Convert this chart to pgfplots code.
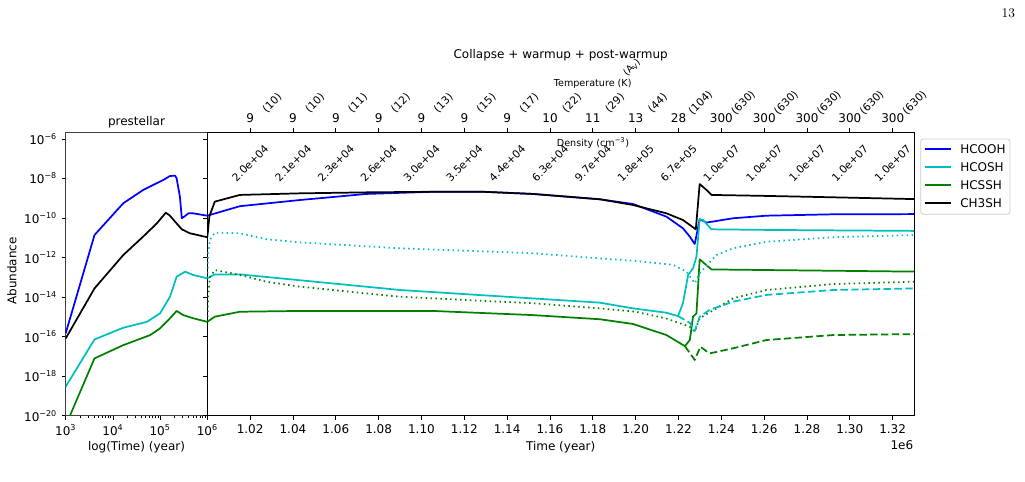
\documentclass[border=0pt]{standalone}
\usepackage{fontspec}
\setsansfont{DejaVu Sans}
\usepackage{pgfplots}
\pgfplotsset{compat=1.18}
\definecolor{colcyan}{rgb}{0,0.75,0.75}
\definecolor{mplg}{rgb}{0,0.5,0}
\definecolor{mplb}{rgb}{0,0,1}
\pgfplotsset{
  myax/.style={
    scale only axis, anchor=south west,
    height=212.55pt, ymin=-20, ymax=-5.661,
    ytick={-20,-18,-16,-14,-12,-10,-8,-6},
    tick align=outside, major tick length=3pt, minor tick length=1.8pt,
    tick style={black, line width=0.6pt},
    axis line style={line width=0.7pt},
    tick label style={font=\fontsize{9}{10}\selectfont},
    /pgf/number format/assume math mode=true,
  },
  pl/.style={line width=1.3pt, line join=round},
  dotst/.style={dash pattern=on 1.1pt off 2.6pt},
  dashst/.style={dash pattern=on 5.5pt off 2.6pt},
}
\begin{document}
\sffamily
\begin{tikzpicture}
\useasboundingbox (0,0) rectangle (768.75pt,361.5pt);
% ---------------- left panel: prestellar ----------------
\begin{axis}[myax,
  at={(49.275pt,49.725pt)}, width=106.2pt,
  xmin=3, xmax=6,
  xtick={3,4,5,6},
  xticklabels={10\textsuperscript{3},10\textsuperscript{4},10\textsuperscript{5},10\textsuperscript{6}},
  minor xtick={3.30103,3.47712,3.60206,3.69897,3.77815,3.84510,3.90309,3.95424,
               4.30103,4.47712,4.60206,4.69897,4.77815,4.84510,4.90309,4.95424,
               5.30103,5.47712,5.60206,5.69897,5.77815,5.84510,5.90309,5.95424},
  yticklabels={10\textsuperscript{−20},10\textsuperscript{−18},10\textsuperscript{−16},10\textsuperscript{−14},10\textsuperscript{−12},10\textsuperscript{−10},10\textsuperscript{−8},10\textsuperscript{−6}},
  xtick pos=bottom, ytick pos=left,
  axis line style={black!75, line width=0.7pt},
]
\addplot[pl, mplb] coordinates {(3,-15.83) (3.61,-10.86) (4.22,-9.25) (4.64,-8.58) (5.07,-8.07) (5.21,-7.87) (5.32,-7.86) (5.35,-7.99) (5.42,-8.92) (5.46,-10.01) (5.51,-9.93) (5.6,-9.76) (5.70,-9.76) (6,-9.88)};
\addplot[pl, colcyan] coordinates {(3,-18.53) (3.61,-16.14) (4.22,-15.55) (4.72,-15.25) (5.0,-14.82) (5.21,-13.98) (5.35,-12.97) (5.53,-12.71) (5.70,-12.88) (6,-13.05)};
\addplot[pl, mplg] coordinates {(3,-20.5) (3.61,-17.10) (4.22,-16.43) (4.79,-15.92) (5.0,-15.58) (5.21,-15.07) (5.35,-14.70) (5.49,-14.91) (5.70,-15.07) (6,-15.25)};
\addplot[pl, black] coordinates {(3,-16.09) (3.61,-13.56) (4.22,-11.87) (4.64,-10.94) (4.93,-10.27) (5.12,-9.73) (5.2,-9.86) (5.35,-10.27) (5.46,-10.57) (5.63,-10.77) (6,-10.97)};
\end{axis}
% ---------------- right panel ----------------
\begin{axis}[myax,
  at={(155.475pt,49.725pt)}, width=530.07pt,
  xmin=1, xmax=1.33,
  xtick={1.02,1.04,1.06,1.08,1.10,1.12,1.14,1.16,1.18,1.20,1.22,1.24,1.26,1.28,1.30,1.32},
  xticklabels={1.02,1.04,1.06,1.08,1.10,1.12,1.14,1.16,1.18,1.20,1.22,1.24,1.26,1.28,1.30,1.32},
  xtick pos=both, ytick pos=left, yticklabels={},
]
\addplot[pl, mplb] coordinates {(1.0,-9.88) (1.0152,-9.4) (1.043,-9.09) (1.0743,-8.78) (1.1054,-8.67) (1.1288,-8.67) (1.152,-8.78) (1.1833,-9.05) (1.1988,-9.29) (1.2144,-9.93) (1.2221,-10.52) (1.2253,-10.94) (1.2276,-11.31) (1.2299,-10.06) (1.2331,-10.23) (1.2455,-10.01) (1.2611,-9.88) (1.2922,-9.81) (1.33,-9.80)};
\addplot[pl, colcyan] coordinates {(1.0,-13.05) (1.0035,-12.85) (1.0152,-12.85) (1.0899,-13.64) (1.1832,-14.28) (1.1988,-14.57) (1.2144,-14.79) (1.2198,-14.96) (1.2221,-14.31) (1.2245,-12.88) (1.2268,-12.54) (1.2284,-11.95) (1.2299,-10.06) (1.2315,-10.1) (1.2354,-10.57) (1.2611,-10.6) (1.33,-10.65)};
\addplot[pl, mplg] coordinates {(1.0,-15.25) (1.0035,-14.99) (1.0152,-14.74) (1.043,-14.70) (1.1054,-14.70) (1.152,-14.91) (1.1833,-15.12) (1.1988,-15.36) (1.2144,-15.92) (1.2230,-16.48) (1.2253,-16.17) (1.2268,-14.99) (1.2284,-14.82) (1.2299,-12.09) (1.2354,-12.6) (1.2611,-12.63) (1.33,-12.71)};
\addplot[pl, black] coordinates {(1.0,-10.97) (1.001,-9.9) (1.0035,-9.17) (1.0152,-8.83) (1.043,-8.75) (1.0743,-8.70) (1.1054,-8.67) (1.1288,-8.67) (1.152,-8.78) (1.1833,-9.05) (1.1988,-9.34) (1.2144,-9.76) (1.2221,-10.1) (1.2281,-10.57) (1.2299,-8.28) (1.2331,-8.58) (1.2354,-8.83) (1.2611,-8.88) (1.2922,-8.95) (1.33,-9.04)};
% dotted and dashed variants
\addplot[pl, colcyan, dotst] coordinates {(1.0,-13.05) (1.0004,-11.8) (1.0012,-11.1) (1.0035,-10.74) (1.0152,-10.77) (1.0276,-11.07) (1.043,-11.23) (1.0899,-11.53) (1.152,-11.78) (1.1833,-12.04) (1.2,-12.17) (1.2175,-12.37) (1.2237,-12.71) (1.2276,-13.30) (1.2299,-12.79) (1.2377,-11.87) (1.2455,-11.53) (1.2611,-11.2) (1.2922,-10.97) (1.33,-10.86)};
\addplot[pl, mplg, dotst] coordinates {(1.0,-15.25) (1.0004,-14.0) (1.0012,-13.0) (1.0035,-12.63) (1.0152,-12.88) (1.0276,-13.22) (1.043,-13.47) (1.0899,-13.98) (1.152,-14.31) (1.1833,-14.57) (1.2,-14.74) (1.214,-15.07) (1.2253,-15.5) (1.2276,-15.75) (1.2299,-15.07) (1.2377,-14.57) (1.2455,-14.06) (1.2611,-13.64) (1.2922,-13.34) (1.33,-13.22)};
\addplot[pl, colcyan, dashst] coordinates {(1.2198,-14.96) (1.2253,-15.3) (1.2276,-15.72) (1.2299,-14.99) (1.2345,-14.65) (1.2455,-14.23) (1.2611,-13.89) (1.2922,-13.64) (1.33,-13.56)};
\addplot[pl, mplg, dashst] coordinates {(1.2230,-16.48) (1.2276,-17.18) (1.2302,-16.51) (1.2345,-16.85) (1.2455,-16.59) (1.2611,-16.17) (1.2922,-15.92) (1.33,-15.87)};
\end{axis}
% ---------------- texts and legend (pixel coordinates) ----------------
\begin{scope}[x=0.75pt,y=-0.75pt,yshift=361.5pt]
\draw[black!20, line width=0.6pt, rounded corners=2pt] (920.7,139) rectangle (1010,214.3);
\draw[mplb, line width=1.3pt] (924.7,149) -- (950.7,149);
\draw[colcyan, line width=1.3pt] (924.7,167) -- (950.7,167);
\draw[mplg, line width=1.3pt] (924.7,184.7) -- (950.7,184.7);
\draw[black, line width=1.3pt] (924.7,203) -- (950.7,203);
\node[font=\fontsize{9}{10}\selectfont, anchor=west, inner sep=0pt] at (960,149) {HCOOH};
\node[font=\fontsize{9}{10}\selectfont, anchor=west, inner sep=0pt] at (960,167) {HCOSH};
\node[font=\fontsize{9}{10}\selectfont, anchor=west, inner sep=0pt] at (960,184.7) {HCSSH};
\node[font=\fontsize{9}{10}\selectfont, anchor=west, inner sep=0pt] at (960,203) {CH3SH};
\node[font=\rmfamily\fontsize{10}{12}\selectfont] at (1008.3,13.3) {13};
\node[font=\fontsize{9}{10}\selectfont] at (560.7,55) {Collapse + warmup + post-warmup};
\node[font=\fontsize{9}{10}\selectfont] at (136.5,122) {prestellar};
\node[font=\fontsize{9}{10}\selectfont, rotate=90] at (12,271) {Abundance};
\node[font=\fontsize{9}{10}\selectfont] at (136.5,447) {log(Time) (year)};
\node[font=\fontsize{9}{10}\selectfont] at (560.7,447) {Time (year)};
\node[font=\fontsize{9}{10}\selectfont, anchor=east, inner sep=0pt] at (913.5,445) {1e6};
\node[font=\fontsize{7.2}{8}\selectfont] at (592.7,84) {Temperature (K)};
\node[font=\fontsize{7.2}{8}\selectfont, rotate=45] at (632,67.5) {(A\textsubscript{V})};
\node[font=\fontsize{7.2}{8}\selectfont] at (593,143) {Density (cm\textsuperscript{−3})};
\foreach \i/\T/\A/\D in {0/9/10/2.0e+04, 1/9/10/2.1e+04, 2/9/11/2.3e+04, 3/9/12/2.6e+04,
  4/9/13/3.0e+04, 5/9/15/3.5e+04, 6/9/17/4.4e+04, 7/10/22/6.3e+04, 8/11/29/9.7e+04,
  9/13/44/1.8e+05, 10/28/104/6.7e+05, 11/300/630/1.0e+07, 12/300/630/1.0e+07,
  13/300/630/1.0e+07, 14/300/630/1.0e+07, 15/300/630/1.0e+07}{
  \pgfmathsetmacro\xx{250.2+42.834*\i}
  \node[font=\fontsize{9}{10}\selectfont, inner sep=0pt] at (\xx,117.7) {\T};
  \node[font=\fontsize{8}{9}\selectfont, rotate=45, inner sep=0pt] at (\xx+22,103) {(\A)};
  \node[font=\fontsize{8}{9}\selectfont, rotate=45, inner sep=0pt] at (\xx,163) {\D};
}
\end{scope}
\end{tikzpicture}
\end{document}
